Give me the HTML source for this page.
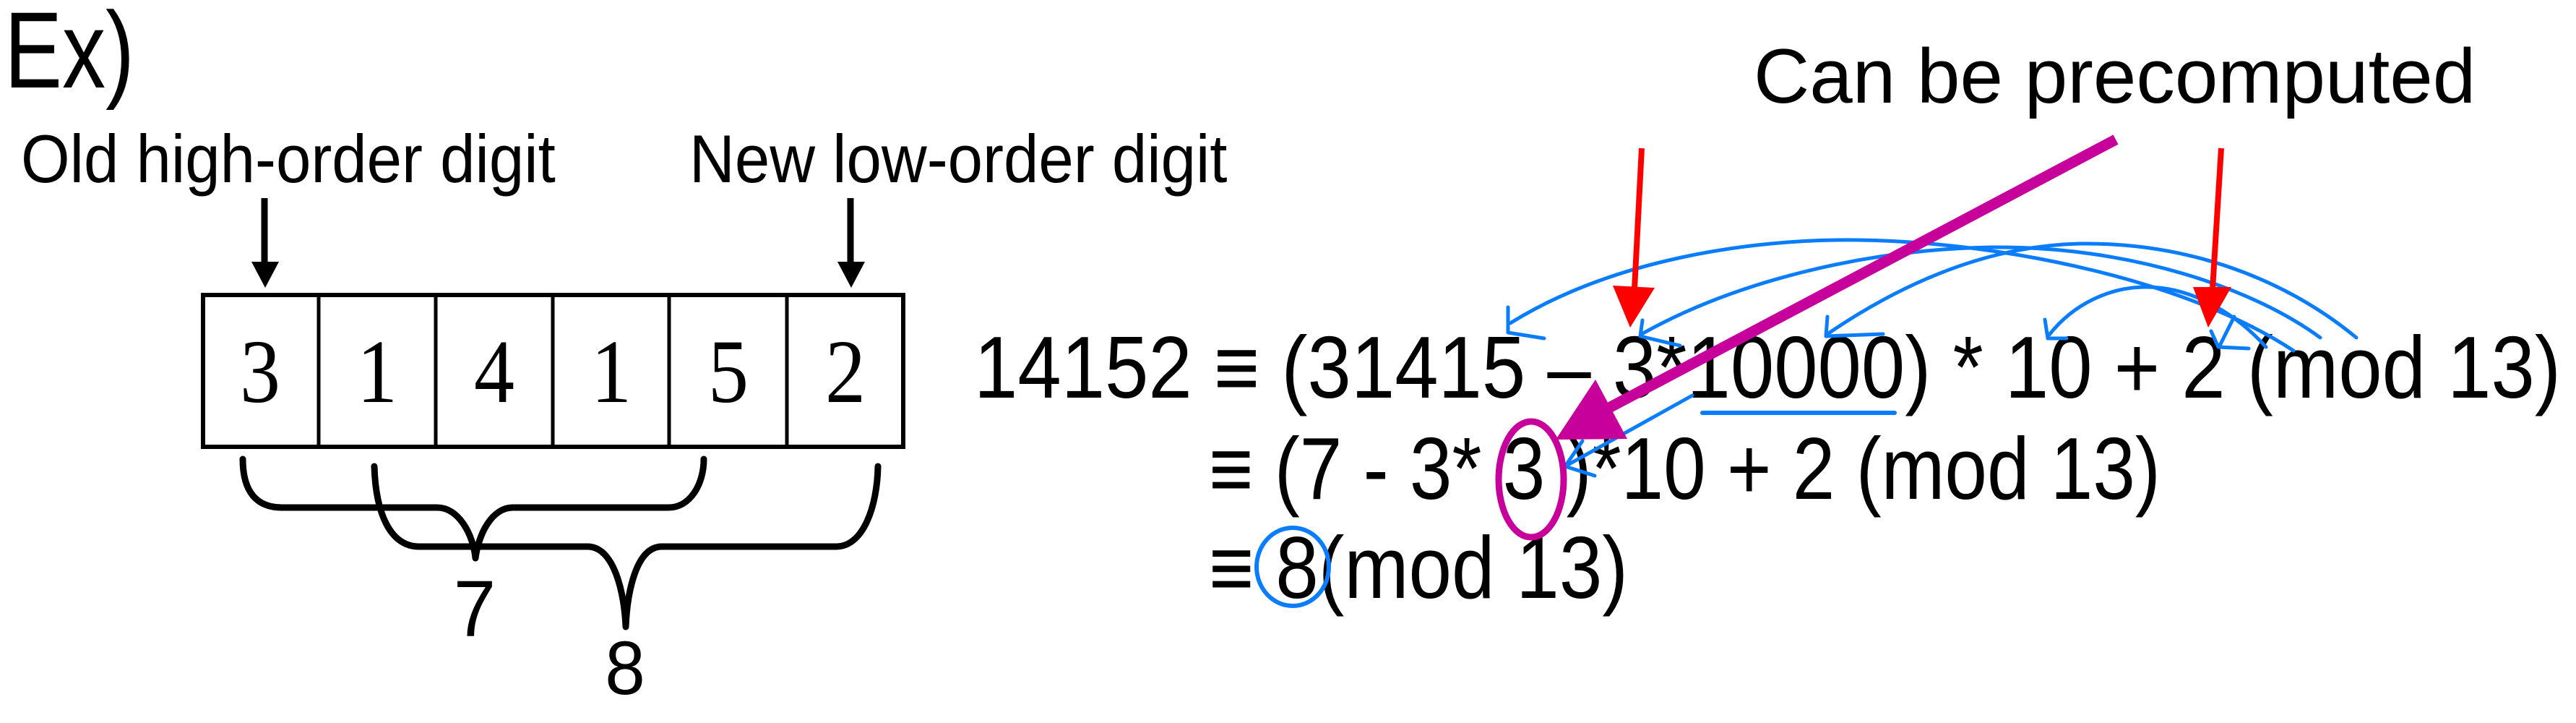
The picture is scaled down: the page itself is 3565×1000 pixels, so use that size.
<!DOCTYPE html>
<html><head><meta charset="utf-8"><style>
html,body{margin:0;padding:0;background:#fff;}
svg{display:block;}
</style></head><body>
<svg width="3565" height="1000" viewBox="0 0 3565 1000" xmlns="http://www.w3.org/2000/svg">
<g font-family="Liberation Sans, Arial, sans-serif" fill="#000">
<text transform="translate(6,121) scale(1,1.25)" font-size="120">Ex)</text>
<text transform="translate(29,252) scale(1,1.08)" font-size="87">Old high-order digit</text>
<text transform="translate(954,252) scale(1,1.08)" font-size="87">New low-order digit</text>
</g>
<!-- black arrows -->
<line x1="366" y1="274" x2="366" y2="368" stroke="#000" stroke-width="9"/>
<polygon points="348,362 386,362 367,398" fill="#000"/>
<line x1="1177" y1="274" x2="1177" y2="368" stroke="#000" stroke-width="9"/>
<polygon points="1159,362 1197,362 1178,398" fill="#000"/>
<!-- box -->
<rect x="281" y="408" width="969" height="210" fill="none" stroke="#000" stroke-width="6"/>
<g stroke="#000" stroke-width="5">
<line x1="441" y1="408" x2="441" y2="618"/><line x1="603" y1="408" x2="603" y2="618"/>
<line x1="765" y1="408" x2="765" y2="618"/><line x1="926" y1="408" x2="926" y2="618"/>
<line x1="1089" y1="408" x2="1089" y2="618"/>
</g>
<g font-family="Liberation Serif, serif" font-size="112" text-anchor="middle" fill="#000">
<text transform="translate(360,556) scale(1,1.12)">3</text>
<text transform="translate(522,556) scale(1,1.12)">1</text>
<text transform="translate(684,556) scale(1,1.12)">4</text>
<text transform="translate(846,556) scale(1,1.12)">1</text>
<text transform="translate(1008,556) scale(1,1.12)">5</text>
<text transform="translate(1170,556) scale(1,1.12)">2</text>
</g>
<!-- braces -->
<g fill="none" stroke="#000" stroke-width="9" stroke-linecap="round" stroke-linejoin="round">
<path d="M336,635 C336,680 355,702 390,702 L605,702 C635,702 655,740 658,772 C662,740 680,702 710,702 L925,702 C955,702 974,670 974,635"/>
<path d="M518,645 C520,710 540,756 580,756 L813,756 C850,756 864,820 866,867 C868,820 880,756 916,756 L1157,756 C1195,756 1214,700 1215,645"/>
</g>
<g font-family="Liberation Sans, Arial, sans-serif" fill="#000" text-anchor="middle">
<text transform="translate(657,880) scale(1,1.05)" font-size="105">7</text>
<text transform="translate(865,960) scale(1,1.05)" font-size="100">8</text>
</g>
<!-- right side text -->
<g font-family="Liberation Sans, Arial, DejaVu Sans, sans-serif" fill="#000">
<text x="2427" y="142" font-size="107">Can be precomputed</text>
<text transform="translate(1348,550) scale(1,1.13)" font-size="108" textLength="2196" lengthAdjust="spacingAndGlyphs">14152 ≡ (31415 – 3*10000) * 10 + 2 (mod 13)</text>
<text transform="translate(1673,690) scale(1,1.13)" font-size="108" textLength="1317" lengthAdjust="spacingAndGlyphs">≡ (7 - 3* 3 )*10 + 2 (mod 13)</text>
<text transform="translate(1673,827) scale(1,1.13)" font-size="108" textLength="580" lengthAdjust="spacingAndGlyphs">≡ 8(mod 13)</text>
</g>
<!-- blue underline -->
<line x1="2356" y1="571" x2="2622" y2="571" stroke="#0a7dff" stroke-width="6" stroke-linecap="round"/>
<!-- blue arcs -->
<g fill="none" stroke="#0a7dff" stroke-width="5" stroke-linecap="round" stroke-linejoin="round">
<path d="M2090,447 C2230,360 2420,330 2572,332 C2780,335 3030,390 3174,485"/>
<path d="M2272,462 C2400,390 2580,345 2755,342 C2950,340 3120,400 3211,467"/>
<path d="M2529,462 C2620,400 2740,340 2879,337 C3050,335 3180,400 3261,467"/>
<path d="M2836,463 C2870,420 2920,397 2970,397 C3040,397 3100,440 3136,480"/>
<path d="M3092,438 L3072,478"/>
<!-- hooks -->
<path d="M2087,425 L2087,460 L2137,468"/>
<path d="M2273,443 L2270,465 L2325,478"/>
<path d="M2529,438 L2527,465 L2606,462"/>
<path d="M2830,442 L2834,468 L2860,468"/>
<path d="M3060,458 L3070,480 L3112,482"/>
<!-- small arrow to circled 3 -->
<path d="M2342,547 L2166,645"/>
<path d="M2190,610 L2166,645 L2207,658"/>
</g>
<!-- blue circle around 8 -->
<ellipse cx="1789" cy="784" rx="50" ry="54" fill="none" stroke="#0a7dff" stroke-width="6"/>
<!-- red arrows -->
<line x1="2272" y1="205" x2="2262" y2="400" stroke="#ff0000" stroke-width="8"/>
<polygon points="2232,395 2290,398 2256,453" fill="#ff0000"/>
<line x1="3074" y1="205" x2="3062" y2="400" stroke="#ff0000" stroke-width="8"/>
<polygon points="3035,397 3088,397 3056,453" fill="#ff0000"/>
<!-- magenta -->
<line x1="2928" y1="193" x2="2225" y2="565" stroke="#c8009b" stroke-width="15"/>
<polygon points="2208,525 2252,607 2153,608" fill="#c8009b"/>
<ellipse cx="2119" cy="663" rx="45" ry="80" fill="none" stroke="#c8009b" stroke-width="9"/>
</svg>
</body></html>
